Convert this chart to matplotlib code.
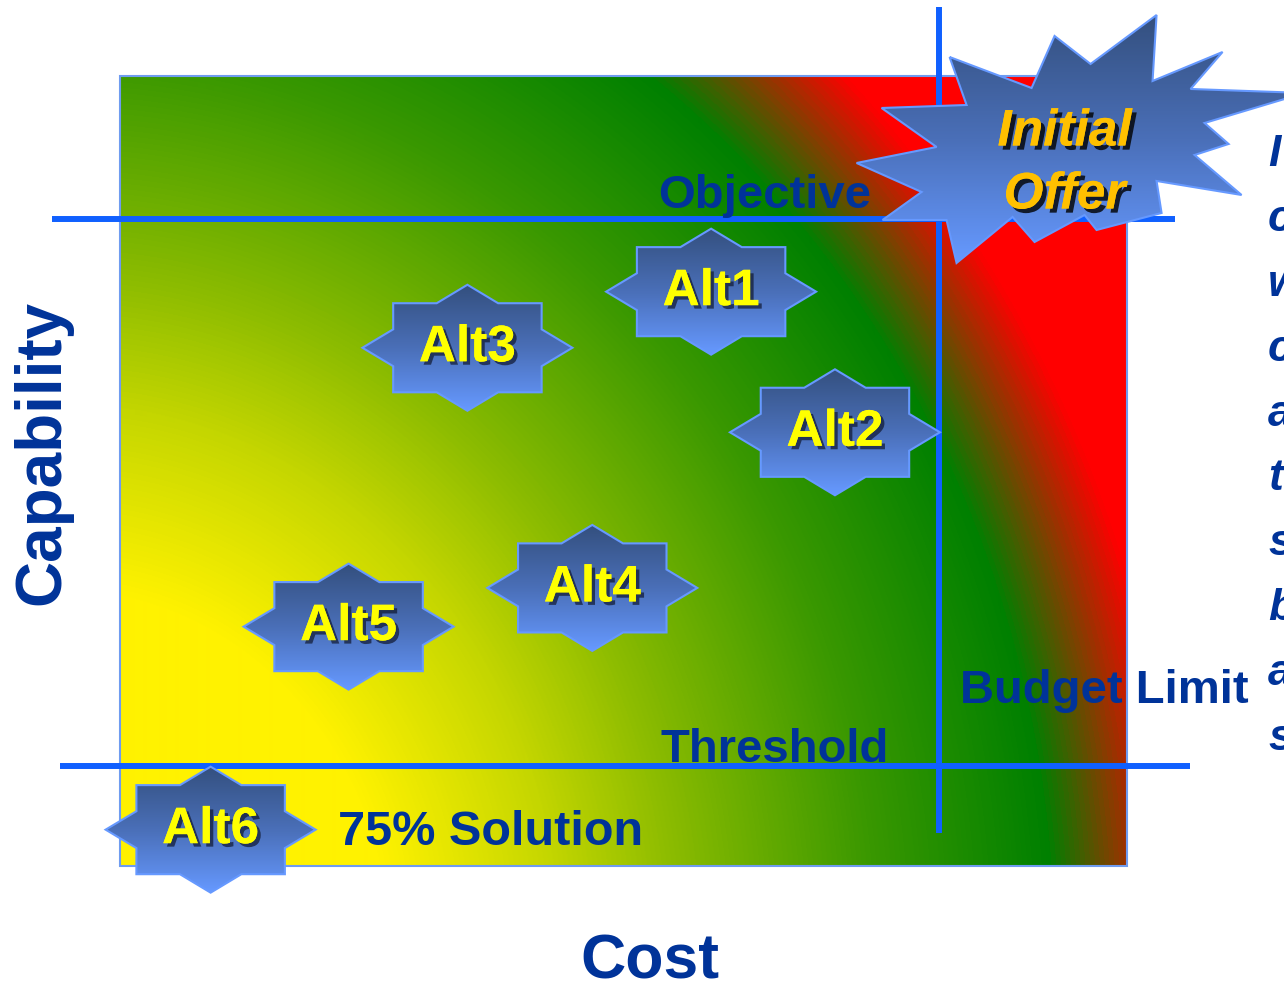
import numpy as np
import matplotlib
matplotlib.use('Agg')
from matplotlib import pyplot as plt, patheffects
from matplotlib.colors import LinearSegmentedColormap
from matplotlib.patches import Polygon, Rectangle

plt.rcParams['font.family'] = ['Liberation Sans', 'DejaVu Sans']

# alternatives on the cost / capability plane (box spans 0..100 on both)
alt_names = ['Alt1', 'Alt2', 'Alt3', 'Alt4', 'Alt5', 'Alt6']
alt_cost = [58.7, 71.0, 34.5, 46.9, 22.7, 9.0]
alt_capability = [72.7, 54.9, 65.6, 35.2, 30.3, 4.6]

offer_label = 'Initial\nOffer'
offer_cost = 93.8
offer_capability = 91.9

objective_level = 81.9
threshold_level = 12.7
budget_limit = 81.3

# clipped side note (only first letters visible)
note_letters = ['I', 'c', 'w', 'c', 'a', 't', 's', 'b', 'a', 's']

DARK = '#003399'
LINE = '#1060ff'

# pixel scale of the box: 1007 x 790 px
PX_X = 100 / 1007
PX_Y = 100 / 790

fig = plt.figure(figsize=(12.84, 9.9), dpi=100)
ax = fig.add_axes([0, 0, 1, 1])
ax.set_axis_off()
XLIM = (-120 * PX_X, (1284 - 120) * PX_X)
YLIM = (-(990 - 866) * PX_Y, 866 * PX_Y)

# background gradient: yellow -> green -> red away from lower-left
RMAX = 1.25
stops = [(0.0, '#fff200'), (0.33, '#fff200'), (0.50, '#c4d600'), (0.63, '#88ba00'),
         (0.82, '#3a9800'), (1.0, '#008000'), (1.065, '#804000'), (1.13, '#ff0000'),
         (RMAX, '#ff0000')]
bg_cmap = LinearSegmentedColormap.from_list('bg', [(s / RMAX, c) for s, c in stops])
px = np.arange(1007) + 120
py = 866 - np.arange(790)
PX, PY = np.meshgrid(px, py)
r = np.sqrt(((PX - 60) / 992.0) ** 2 + ((950 - PY) / 1086.0) ** 2)
ax.imshow(r, cmap=bg_cmap, vmin=0, vmax=RMAX, extent=(0, 100, 0, 100),
          origin='lower', aspect='auto', zorder=0, interpolation='bilinear')
ax.add_patch(Rectangle((0, 0), 100, 100, fill=False, ec='#6f9cf0', lw=1.5, zorder=1))

# reference lines
ax.plot([-68 * PX_X, 1055 * PX_X], [objective_level, objective_level],
        color=LINE, lw=4.3, zorder=2, solid_capstyle='butt')
ax.plot([-60 * PX_X, 1070 * PX_X], [threshold_level, threshold_level],
        color=LINE, lw=4.3, zorder=2, solid_capstyle='butt')
ax.plot([budget_limit, budget_limit], [4.2, 108.7], color=LINE, lw=4.3,
        zorder=2, solid_capstyle='butt')

star_cmap = LinearSegmentedColormap.from_list('star', ['#34507f', '#4a6fb8', '#6699ff'])
grad = np.linspace(0, 1, 100).reshape(-1, 1)


def gradient_shape(verts, z):
    patch = Polygon(verts, closed=True, fc='none', ec='#6699ff', lw=1.5, zorder=z + 0.1)
    ax.add_patch(patch)
    x0, y0 = verts.min(axis=0)
    x1, y1 = verts.max(axis=0)
    im = ax.imshow(grad, cmap=star_cmap, extent=(x0, x1, y0, y1), origin='upper',
                   aspect='auto', zorder=z)
    im.set_clip_path(patch)


def star8(cx, cy, rx=105 * PX_X, ry=63 * PX_Y):
    ang = np.arange(16) * np.pi / 8
    rr = np.where(np.arange(16) % 2 == 0, 1.0, 0.765)
    return np.column_stack([cx + rx * rr * np.cos(ang), cy + ry * rr * np.sin(ang)])


shadow = [patheffects.withSimplePatchShadow(offset=(2.5, -2.5), shadow_rgbFace='#101830', alpha=0.7),
          patheffects.Normal()]

for name, c, cap in zip(alt_names, alt_cost, alt_capability):
    gradient_shape(star8(c, cap), 4)
    ax.text(c, cap, name, ha='center', va='center', fontsize=37, fontweight='bold',
            color='#ffff00', zorder=5, path_effects=shadow)

# burst outline around the initial offer (px offsets from its centre)
burst = np.array([(-115, -83), (-33, -52), (-10, -104), (26, -76), (92, -125), (88, -59),
                  (158, -88), (126, -51), (240, -47), (140, -17), (164, 4), (130, 15),
                  (177, 55), (92, 41), (97, 73), (32, 90), (20, 75), (-30, 102),
                  (-52, 77), (-108, 123), (-118, 80), (-182, 80), (-143, 52), (-208, 23),
                  (-128, 7), (-183, -32), (-98, -35)], dtype=float)
burst_verts = np.column_stack([offer_cost + burst[:, 0] * PX_X,
                               offer_capability - burst[:, 1] * PX_Y])
gradient_shape(burst_verts, 6)
for i, line in enumerate(offer_label.split('\n')):
    ax.text(offer_cost, offer_capability + (8 - 63 * i) * PX_Y, line, ha='center',
            va='center', fontsize=37, fontweight='bold', fontstyle='italic',
            color='#ffc000', zorder=7,
            path_effects=[patheffects.withSimplePatchShadow(offset=(3, -3), shadow_rgbFace='black', alpha=0.8),
                          patheffects.Normal()])

# labels
ax.text(64.0, (866 - 208) * PX_Y, 'Objective', ha='center', va='baseline',
        fontsize=34, fontweight='bold', color=DARK, zorder=3)
ax.text(65.0, (866 - 762) * PX_Y, 'Threshold', ha='center', va='baseline',
        fontsize=34, fontweight='bold', color=DARK, zorder=3)
ax.text((960 - 120) * PX_X, (866 - 703) * PX_Y, 'Budget Limit', ha='left', va='baseline',
        fontsize=34, fontweight='bold', color=DARK, zorder=3)
ax.text((338 - 120) * PX_X, (866 - 845) * PX_Y, '75% Solution', ha='left', va='baseline',
        fontsize=35, fontweight='bold', color=DARK, zorder=3)
ax.text((650 - 120) * PX_X, (866 - 962) * PX_Y, 'Cost', ha='center', va='center',
        fontsize=45, fontweight='bold', color=DARK)
ax.text((42 - 120) * PX_X, (866 - 452) * PX_Y, 'Capability', ha='center', va='center',
        rotation=90, fontsize=46, fontweight='bold', color=DARK)

for i, ch in enumerate(note_letters):
    ax.text((1268 - 120) * PX_X, (866 - 155 - 64.8 * i) * PX_Y, ch, ha='left', va='center',
            fontsize=32, fontweight='bold', fontstyle='italic', color=DARK)

ax.set_xlim(*XLIM)
ax.set_ylim(*YLIM)
fig.savefig('out.png', dpi=100)
